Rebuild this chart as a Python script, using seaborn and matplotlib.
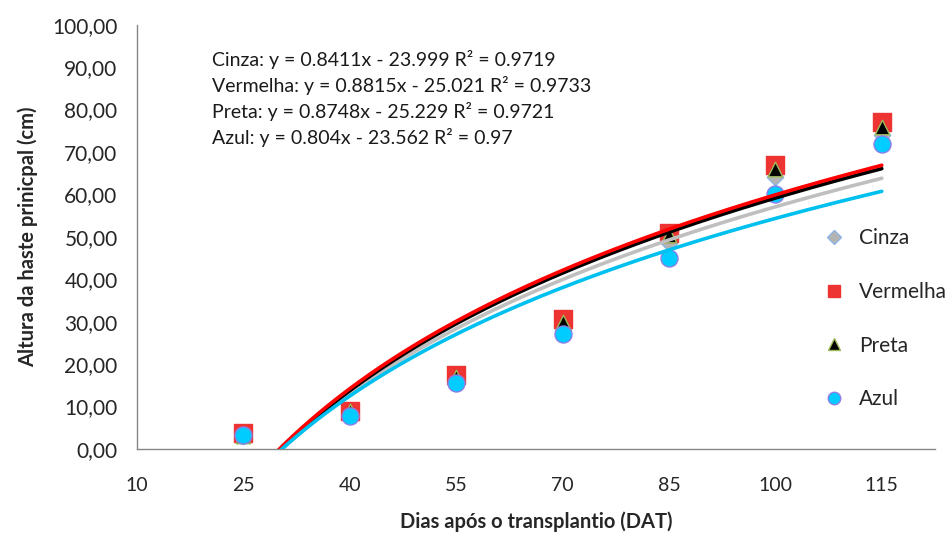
import numpy as np
import pandas as pd
import matplotlib
matplotlib.use("Agg")
import matplotlib.pyplot as plt
from matplotlib.ticker import FuncFormatter
from matplotlib.lines import Line2D
import seaborn as sns

# Days after transplanting and main stem height (cm) per mulch colour
dias = [25, 40, 55, 70, 85, 100, 115]
cinza = [3.0, 8.5, 16.0, 28.0, 48.5, 64.0, 74.0]
vermelha = [3.8, 9.0, 17.4, 30.6, 51.0, 67.0, 77.0]
preta = [3.0, 9.0, 17.0, 30.0, 50.5, 66.0, 76.0]
azul = [3.3, 7.8, 15.5, 27.0, 45.0, 60.0, 72.0]

series_names = ["Cinza", "Vermelha", "Preta", "Azul"]
equations = [
    "Cinza: y = 0.8411x - 23.999 R² = 0.9719",
    "Vermelha: y = 0.8815x - 25.021 R² = 0.9733",
    "Preta: y = 0.8748x - 25.229 R² = 0.9721",
    "Azul: y = 0.804x - 23.562 R² = 0.97",
]
x_ticks = [10, 25, 40, 55, 70, 85, 100, 115]

sns.set_theme(style="white")
plt.rcParams["font.family"] = ["Lato", "DejaVu Sans"]

df = pd.DataFrame({"Dias": dias, "Cinza": cinza, "Vermelha": vermelha,
                   "Preta": preta, "Azul": azul})

styles = {
    "Cinza": dict(marker="D", color="#B4B4B4", edge="#8DB4E2", size=70, line="#BFBFBF"),
    "Vermelha": dict(marker="s", color="#EE3333", edge="#EE3333", size=150, line="#FF0000"),
    "Preta": dict(marker="^", color="#000000", edge="#9BBB59", size=110, line="#000000"),
    "Azul": dict(marker="o", color="#00CCFF", edge="#8C7FE8", size=150, line="#00C0F0"),
}

fig = plt.figure(figsize=(9.49, 5.39), dpi=100)
ax = fig.add_axes([137 / 949, 1 - 449 / 539, (935 - 137) / 949, (449 - 24.7) / 539])

# observed points
for name in series_names:
    st = styles[name]
    sns.scatterplot(data=df, x="Dias", y=name, ax=ax, marker=st["marker"],
                    color=st["color"], edgecolor=st["edge"], linewidth=1.0,
                    s=st["size"], zorder=3, legend=False)

# logarithmic trend lines fitted to each series, drawn over the points
xs = np.linspace(dias[0], dias[-1], 300)
for name in ["Cinza", "Preta", "Vermelha", "Azul"]:
    a, b = np.polyfit(np.log(df["Dias"]), df[name], 1)
    trend = pd.DataFrame({"x": xs, "y": a * np.log(xs) + b})
    trend = trend[trend["y"] >= -1]
    sns.lineplot(data=trend, x="x", y="y", ax=ax, color=styles[name]["line"],
                 linewidth=2.6, zorder=4, legend=False)

ax.set_xlim(10, 122.5)
ax.set_ylim(0, 100)
ax.set_xticks(x_ticks)
ax.set_yticks(np.arange(0, 101, 10))
ax.yaxis.set_major_formatter(FuncFormatter(lambda v, _: f"{v:.2f}".replace(".", ",")))
ax.tick_params(axis="both", which="major", direction="out", length=6, width=1,
               color="#868686", labelcolor="#262626")
ax.tick_params(axis="x", pad=14, labelsize=14)
ax.tick_params(axis="y", pad=8, labelsize=15)

for side in ["top", "right"]:
    ax.spines[side].set_visible(False)
for side in ["left", "bottom"]:
    ax.spines[side].set_color("#868686")
    ax.spines[side].set_linewidth(1.0)

ax.set_xlabel("Dias após o transplantio (DAT)", fontsize=14.5, fontweight="bold",
              color="#262626", labelpad=13)
ax.set_ylabel("Altura da haste prinicpal (cm)", fontsize=14.5, fontweight="bold",
              color="#262626", labelpad=10)

# regression equations
for i, eq in enumerate(equations):
    ax.text(0.094, 0.918 - i * 0.0613, eq, transform=ax.transAxes, fontsize=14,
            color="#1a1a1a", va="center", ha="left")

handles = [Line2D([0], [0], linestyle="none", marker=styles[n]["marker"],
                  markerfacecolor=styles[n]["color"], markeredgecolor=styles[n]["edge"],
                  markersize=(9 if n != "Cinza" else 7))
           for n in series_names]
leg = ax.legend(handles, series_names, loc="upper left", bbox_to_anchor=(0.847, 0.545),
                frameon=False, fontsize=15, labelspacing=1.62, handletextpad=0.7,
                borderpad=0, handlelength=1.0)
for t in leg.get_texts():
    t.set_color("#262626")

fig.savefig("out.png", dpi=100)
